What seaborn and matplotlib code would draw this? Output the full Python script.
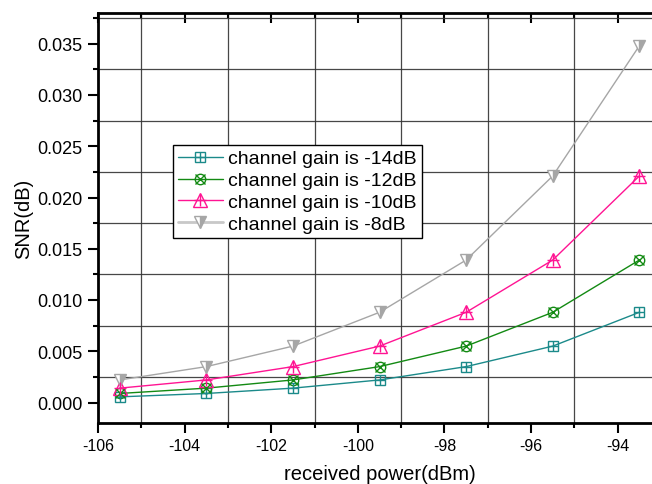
import matplotlib
matplotlib.use("Agg")
import matplotlib.pyplot as plt
import seaborn as sns
import numpy as np
import pandas as pd
from matplotlib.lines import Line2D
from matplotlib.legend_handler import HandlerTuple
from matplotlib.ticker import MultipleLocator

# ---- data ----
power_dbm = [-105.5, -103.5, -101.5, -99.5, -97.5, -95.5, -93.5]
snr_m14 = [0.00055, 0.00088, 0.0014, 0.0022, 0.0035, 0.0055, 0.0088]
snr_m12 = [0.00088, 0.0014, 0.0022, 0.0035, 0.0055, 0.0088, 0.0139]
snr_m10 = [0.0014, 0.0022, 0.0035, 0.0055, 0.0088, 0.0139, 0.0221]
snr_m8 = [0.0022, 0.0035, 0.0055, 0.0088, 0.0139, 0.0221, 0.0348]
series_labels = ["channel gain is -14dB", "channel gain is -12dB",
                 "channel gain is -10dB", "channel gain is -8dB"]

x_ticks = [-106, -104, -102, -100, -98, -96, -94]
y_ticks = [0.000, 0.005, 0.010, 0.015, 0.020, 0.025, 0.030, 0.035]

sns.set_style("ticks")
plt.rcParams['font.family'] = ['Liberation Sans', 'DejaVu Sans']
plt.rcParams['text.color'] = 'black'
plt.rcParams['axes.labelcolor'] = 'black'
plt.rcParams['xtick.color'] = 'black'
plt.rcParams['ytick.color'] = 'black'

fig = plt.figure(figsize=(6.52, 4.85), dpi=100)
ax = fig.add_axes([98/652, 1 - 424/485, 563/652, 410/485])

styles = [
    dict(color="#1b8a8a", marker="s", over="+", ms=7, fill="none"),
    dict(color="#138a13", marker="o", over="x", ms=7.5, fill="none"),
    dict(color="#ff1493", marker="^", over="+", ms=9.5, fill="none"),
    dict(color="#a6a6a6", marker="v", over=None, ms=9, fill="right"),
]
data = [snr_m14, snr_m12, snr_m10, snr_m8]

handles = []
for vals, st, lab in zip(data, styles, series_labels):
    df = pd.DataFrame({"x": power_dbm, "y": vals})
    c = st["color"]
    if st["fill"] == "none":
        sns.lineplot(data=df, x="x", y="y", ax=ax, color=c, lw=1.0,
                     marker=st["marker"], markersize=st["ms"],
                     markerfacecolor="none", markeredgecolor=c,
                     markeredgewidth=1.0, zorder=3)
        sns.lineplot(data=df, x="x", y="y", ax=ax, color=c, lw=0,
                     marker=st["over"], markersize=st["ms"] * 0.95,
                     markeredgecolor=c, markeredgewidth=1.0, zorder=4)
        h = (Line2D([], [], color=c, lw=1.0, marker=st["marker"], ms=st["ms"],
                    mfc="none", mec=c, mew=1.0),
             Line2D([], [], color=c, lw=0, marker=st["over"], ms=st["ms"] * 0.95,
                    mec=c, mew=1.0))
    else:
        sns.lineplot(data=df, x="x", y="y", ax=ax, color=c, lw=1.0,
                     marker=st["marker"], markersize=st["ms"],
                     markerfacecolor=c, markerfacecoloralt="white",
                     fillstyle="right", markeredgecolor=c,
                     markeredgewidth=1.0, zorder=3)
        h = (Line2D([], [], color="#c8c8c8", lw=2.0, marker=st["marker"], ms=st["ms"],
                    mfc=c, mfcalt="white", fillstyle="right", mec=c, mew=1.0),)
    handles.append(h)

ax.set_xlim(-106, -93)
ax.set_ylim(-0.002, 0.038)
ax.set_xticks(x_ticks)
ax.set_xticklabels([str(t) for t in x_ticks])
ax.set_yticks(y_ticks)
ax.set_yticklabels([f"{t:.3f}" for t in y_ticks])
ax.xaxis.set_minor_locator(MultipleLocator(1))
ax.yaxis.set_minor_locator(MultipleLocator(0.0025))

ax.grid(False)
ax.grid(which="minor", color="#333333", lw=0.9, alpha=0.9)
ax.set_axisbelow(True)

for s in ax.spines.values():
    s.set_linewidth(2.0)
    s.set_color("black")
ax.spines["right"].set_visible(False)

ax.tick_params(axis="both", which="major", direction="out", length=7, width=1.5,
               colors="black", pad=4)
ax.tick_params(axis="both", which="minor", direction="out", length=3.5, width=1.5)
ax.tick_params(axis="x", top=True, which="both")
ax.tick_params(axis="x", which="major", pad=4, labelsize=11.5)
ax.tick_params(axis="y", which="major", labelsize=13)

ax.set_xlabel("received power(dBm)", fontsize=14.5, labelpad=8, color="black")
ax.set_ylabel("SNR(dB)", fontsize=14.5, labelpad=3, color="black")

# top ticks pointing inward
for t in ax.xaxis.get_major_ticks() + ax.xaxis.get_minor_ticks():
    t.tick2line.set_marker(matplotlib.lines.TICKDOWN)

leg = ax.legend(handles, series_labels, handler_map={tuple: HandlerTuple(ndivide=1)},
                loc="upper left", bbox_to_anchor=((173 - 98) / 563, (424 - 146) / 410),
                fontsize=14, frameon=True, fancybox=False, edgecolor="black",
                framealpha=1, borderpad=0.25, labelspacing=0.22, handlelength=2.3,
                handletextpad=0.3, borderaxespad=0)
leg.get_frame().set_linewidth(1.0)
for txt in leg.get_texts():
    txt.set_color("black")

fig.savefig("out.png", dpi=100)
